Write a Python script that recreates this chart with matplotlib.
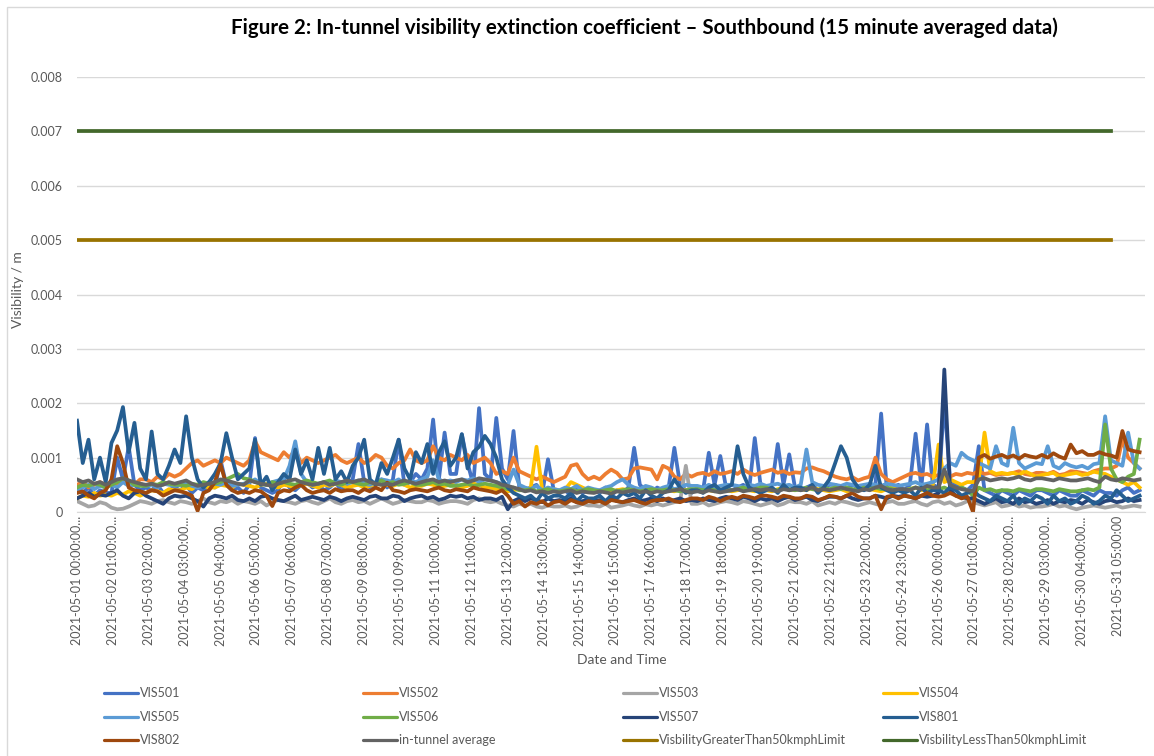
import numpy as np
import matplotlib.pyplot as plt
from matplotlib.lines import Line2D
from matplotlib.patches import Rectangle

plt.rcParams['font.family'] = ['Lato', 'DejaVu Sans']

# 15 minute samples: 2021-05-01 00:00 .. 2021-05-31 23:45 (2976 categories)
# series every 4 h (every 16th sample), units of 1e-5 /m
n_samples = 2976
step = 16

vis501 = [
    40, 35, 45, 30, 40, 35,
    35, 100, 60, 120, 50, 40,
    45, 40, 50, 35, 40, 45,
    40, 50, 35, 45, 40, 50,
    45, 95, 50, 40, 45, 35,
    50, 136, 45, 40, 35, 40,
    60, 45, 40, 50, 55, 45,
    50, 40, 45, 55, 40, 50,
    60, 125, 55, 45, 50, 60,
    45, 60, 133, 50, 55, 70,
    60, 80, 170, 60, 146, 70,
    70, 143, 90, 50, 191, 70,
    60, 173, 80, 60, 149, 45,
    40, 45, 50, 35, 97, 40,
    35, 40, 30, 45, 35, 40,
    40, 35, 45, 30, 40, 35,
    45, 118, 50, 40, 35, 45,
    40, 45, 118, 50, 40, 35,
    45, 40, 109, 50, 103, 45,
    40, 45, 50, 40, 136, 50,
    45, 50, 125, 50, 106, 45,
    40, 45, 50, 40, 45, 50,
    50, 45, 40, 50, 45, 40,
    45, 50, 181, 40, 45, 50,
    40, 50, 144, 45, 161, 50,
    45, 205, 60, 50, 45, 40,
    50, 121, 40, 35, 30, 40,
    35, 30, 40, 35, 30, 40,
    40, 35, 30, 40, 35, 30,
    30, 40, 35, 30, 40, 35,
    35, 30, 40, 45, 35, 40,
]
vis502 = [
    50, 55, 45, 50, 55, 50,
    55, 50, 60, 55, 50, 60,
    60, 55, 65, 60, 70, 65,
    70, 80, 90, 95, 85, 90,
    95, 90, 100, 95, 90, 85,
    95, 130, 110, 105, 100, 95,
    110, 100, 115, 90, 100, 95,
    90, 95, 100, 105, 95, 90,
    95, 100, 90, 95, 105, 100,
    85, 80, 90, 95, 115, 95,
    90, 95, 121, 100, 95, 105,
    100, 95, 105, 90, 95, 100,
    90, 70, 75, 70, 100, 75,
    70, 65, 60, 65, 60, 55,
    60, 65, 85, 88, 70, 60,
    65, 60, 70, 78, 72, 60,
    62, 80, 82, 80, 78, 60,
    85, 80, 65, 60, 70, 65,
    70, 72, 68, 75, 70, 72,
    75, 70, 78, 72, 68, 72,
    75, 78, 72, 75, 70, 73,
    72, 80, 82, 78, 75, 70,
    65, 62, 60, 64, 58, 62,
    65, 100, 70, 60, 55, 60,
    65, 70, 72, 68, 70, 65,
    68, 70, 65, 70, 68, 72,
    70, 75, 70, 72, 68, 70,
    70, 72, 75, 70, 68, 72,
    72, 70, 74, 68, 70, 75,
    74, 72, 70, 75, 78, 80,
    80, 85, 133, 100, 90, 80,
]
vis503 = [
    20, 15, 10, 12, 18, 15,
    8, 5, 6, 10, 15, 20,
    18, 15, 20, 22, 18, 15,
    20, 18, 15, 20, 25, 18,
    15, 20, 18, 22, 15, 20,
    18, 15, 20, 12, 18, 22,
    20, 18, 15, 20, 22, 18,
    15, 20, 25, 18, 15, 20,
    22, 18, 20, 15, 20, 25,
    20, 15, 18, 22, 20, 18,
    18, 22, 20, 15, 18, 20,
    20, 18, 15, 22, 25, 20,
    18, 20, 15, 12, 10, 15,
    12, 15, 10, 8, 12, 10,
    10, 12, 8, 10, 15, 12,
    12, 10, 15, 8, 10, 12,
    15, 12, 10, 14, 12, 15,
    12, 15, 18, 20, 85, 15,
    15, 18, 12, 15, 18, 20,
    18, 15, 20, 18, 15, 12,
    15, 18, 12, 15, 20, 18,
    18, 15, 20, 12, 15, 18,
    15, 20, 18, 15, 12, 15,
    18, 15, 12, 18, 20, 15,
    15, 18, 20, 15, 12, 18,
    20, 15, 18, 12, 15, 20,
    18, 15, 12, 15, 18, 10,
    12, 15, 10, 12, 8, 10,
    10, 12, 15, 10, 12, 8,
    5, 8, 10, 12, 10, 8,
    10, 12, 8, 10, 12, 10,
]
vis504 = [
    25, 30, 28, 35, 30, 32,
    30, 35, 32, 38, 35, 30,
    35, 40, 38, 35, 42, 40,
    40, 45, 42, 50, 48, 45,
    45, 50, 48, 45, 52, 50,
    48, 45, 50, 52, 48, 45,
    50, 48, 45, 50, 52, 48,
    45, 50, 48, 52, 50, 45,
    48, 50, 45, 48, 52, 50,
    50, 48, 52, 50, 45, 48,
    48, 52, 50, 45, 48, 50,
    50, 45, 48, 52, 50, 45,
    45, 42, 40, 38, 40, 42,
    40, 45, 120, 40, 38, 42,
    40, 42, 55, 50, 45, 40,
    38, 40, 42, 38, 40, 42,
    40, 38, 42, 40, 38, 40,
    42, 40, 38, 42, 40, 38,
    40, 42, 40, 38, 42, 40,
    38, 40, 42, 40, 38, 42,
    40, 38, 42, 45, 40, 42,
    42, 40, 45, 42, 40, 38,
    40, 42, 38, 40, 42, 45,
    42, 40, 38, 42, 45, 40,
    40, 42, 45, 40, 45, 50,
    124, 55, 60, 55, 50, 55,
    55, 60, 146, 75, 70, 72,
    70, 72, 68, 75, 70, 65,
    68, 70, 72, 65, 68, 70,
    72, 68, 70, 74, 72, 70,
    65, 60, 55, 50, 55, 45,
]
vis505 = [
    40, 45, 50, 42, 48, 45,
    50, 45, 55, 48, 50, 52,
    48, 50, 45, 52, 50, 48,
    50, 52, 48, 45, 50, 55,
    52, 50, 55, 48, 50, 52,
    55, 60, 52, 50, 55, 58,
    60, 85, 130, 70, 55, 50,
    52, 55, 50, 58, 55, 52,
    55, 58, 52, 50, 55, 60,
    58, 55, 60, 52, 58, 55,
    60, 65, 95, 60, 55, 58,
    55, 60, 58, 62, 55, 60,
    58, 55, 52, 50, 78, 50,
    45, 42, 48, 40, 45, 42,
    40, 45, 42, 48, 40, 45,
    42, 40, 45, 48, 55, 60,
    50, 45, 42, 48, 45, 40,
    45, 48, 42, 45, 50, 48,
    48, 45, 50, 45, 48, 50,
    50, 48, 45, 50, 48, 52,
    48, 50, 52, 48, 50, 45,
    50, 115, 55, 50, 48, 52,
    50, 48, 52, 50, 48, 50,
    52, 50, 48, 52, 50, 48,
    50, 52, 55, 50, 52, 55,
    60, 80, 90, 85, 109, 100,
    95, 90, 85, 80, 121, 90,
    85, 155, 90, 80, 85, 90,
    88, 121, 85, 80, 90, 85,
    82, 85, 80, 88, 90, 176,
    95, 90, 85, 146, 90, 80,
]
vis506 = [
    45, 50, 48, 52, 50, 45,
    50, 55, 62, 58, 50, 48,
    48, 52, 50, 55, 52, 50,
    50, 48, 52, 50, 55, 52,
    52, 55, 60, 65, 70, 62,
    60, 55, 52, 50, 55, 52,
    55, 52, 50, 55, 58, 55,
    52, 55, 58, 52, 50, 55,
    55, 52, 50, 55, 52, 58,
    52, 55, 50, 52, 55, 50,
    50, 52, 55, 50, 52, 48,
    48, 50, 52, 48, 50, 52,
    50, 48, 45, 42, 45, 40,
    40, 42, 38, 40, 42, 38,
    38, 40, 42, 38, 40, 42,
    40, 38, 40, 42, 38, 40,
    42, 40, 38, 40, 42, 40,
    40, 42, 40, 38, 40, 42,
    42, 40, 42, 40, 38, 40,
    40, 42, 45, 40, 42, 45,
    45, 42, 40, 45, 42, 40,
    42, 45, 42, 40, 45, 42,
    45, 42, 45, 42, 40, 45,
    42, 45, 42, 45, 42, 40,
    40, 42, 45, 42, 40, 42,
    42, 45, 40, 42, 45, 40,
    30, 45, 40, 42, 38, 40,
    40, 38, 42, 40, 38, 42,
    42, 40, 38, 42, 40, 38,
    38, 40, 42, 40, 45, 161,
    80, 60, 55, 65, 70, 133,
]
vis507 = [
    25, 30, 35, 28, 32, 30,
    35, 40, 30, 25, 35, 38,
    30, 25, 20, 15, 25, 30,
    28, 30, 25, 20, 10, 25,
    30, 28, 25, 30, 22, 20,
    25, 20, 28, 30, 25, 22,
    20, 25, 30, 22, 25, 28,
    25, 22, 28, 25, 20, 25,
    28, 25, 22, 28, 30, 25,
    25, 30, 28, 20, 25, 28,
    30, 25, 28, 22, 25, 30,
    28, 30, 25, 28, 22, 25,
    25, 22, 28, 5, 20, 25,
    20, 25, 22, 18, 25, 20,
    22, 20, 25, 18, 20, 22,
    20, 22, 18, 25, 20, 18,
    22, 25, 20, 22, 25, 20,
    25, 20, 22, 25, 20, 22,
    20, 25, 22, 20, 25, 28,
    25, 22, 28, 25, 20, 25,
    22, 25, 20, 25, 28, 22,
    25, 28, 22, 20, 25, 28,
    28, 25, 30, 25, 22, 25,
    25, 30, 28, 25, 30, 28,
    30, 28, 25, 30, 28, 30,
    35, 262, 40, 30, 28, 25,
    25, 20, 15, 20, 25, 18,
    20, 15, 25, 18, 20, 15,
    18, 22, 15, 20, 18, 22,
    20, 15, 22, 18, 15, 20,
    22, 18, 20, 25, 20, 22,
]
vis801 = [
    168, 90, 133, 60, 100, 55,
    127, 150, 193, 110, 164, 80,
    60, 148, 70, 60, 85, 115,
    90, 176, 100, 60, 45, 55,
    70, 90, 145, 100, 60, 70,
    80, 133, 50, 65, 40, 55,
    70, 60, 115, 70, 95, 60,
    118, 70, 118, 60, 75, 55,
    85, 100, 133, 60, 50, 90,
    70, 100, 133, 80, 60, 110,
    90, 125, 70, 110, 130, 85,
    100, 143, 80, 110, 120, 140,
    125, 100, 60, 45, 35, 30,
    25, 30, 20, 35, 25, 30,
    30, 25, 35, 20, 30, 25,
    25, 30, 20, 30, 25, 35,
    30, 35, 25, 40, 30, 25,
    35, 40, 60, 45, 35, 40,
    40, 35, 45, 50, 40, 45,
    50, 121, 70, 45, 40, 35,
    40, 45, 35, 50, 40, 45,
    45, 40, 50, 35, 45, 60,
    90, 121, 100, 60, 45, 40,
    50, 85, 45, 40, 35, 40,
    35, 40, 30, 45, 35, 40,
    40, 35, 45, 40, 30, 35,
    40, 30, 25, 20, 30, 25,
    20, 30, 15, 25, 20, 30,
    25, 15, 30, 20, 25, 15,
    20, 30, 25, 15, 20, 30,
    25, 40, 30, 20, 25, 30,
]
vis802 = [
    35, 38, 30, 25, 35, 40,
    60, 121, 90, 45, 40, 38,
    35, 40, 38, 30, 35, 40,
    38, 35, 30, 2, 35, 40,
    55, 87, 50, 40, 35, 38,
    35, 40, 38, 30, 11, 35,
    40, 38, 45, 50, 40, 35,
    38, 40, 35, 42, 38, 40,
    40, 35, 42, 38, 45, 40,
    54, 40, 38, 35, 40, 42,
    40, 38, 42, 45, 40, 38,
    42, 40, 38, 45, 42, 40,
    38, 35, 40, 30, 15, 20,
    10, 18, 15, 20, 12, 18,
    20, 15, 22, 18, 15, 20,
    18, 20, 15, 22, 20, 18,
    20, 22, 18, 15, 20, 22,
    22, 25, 20, 18, 22, 25,
    25, 22, 28, 25, 20, 25,
    28, 25, 30, 28, 25, 30,
    30, 28, 25, 30, 28, 25,
    25, 30, 28, 22, 25, 30,
    28, 25, 30, 35, 28, 25,
    25, 30, 5, 28, 30, 25,
    30, 28, 25, 30, 35, 30,
    28, 30, 35, 30, 25, 28,
    0, 100, 105, 98, 102, 105,
    100, 104, 98, 105, 102, 100,
    105, 100, 108, 102, 98, 124,
    108, 112, 105, 105, 110, 106,
    104, 100, 149, 115, 112, 110,
]
tunnel_avg = [
    60, 55, 58, 52, 55, 50,
    55, 60, 62, 58, 55, 52,
    50, 52, 48, 50, 55, 52,
    55, 58, 52, 48, 50, 52,
    55, 60, 58, 55, 52, 50,
    58, 55, 52, 50, 48, 52,
    55, 58, 60, 55, 52, 50,
    52, 55, 50, 52, 55, 58,
    55, 58, 60, 55, 52, 50,
    52, 50, 55, 58, 55, 52,
    55, 58, 60, 55, 58, 55,
    58, 60, 55, 58, 62, 60,
    58, 55, 50, 48, 45, 42,
    38, 40, 36, 38, 35, 38,
    36, 38, 40, 35, 38, 36,
    35, 38, 36, 34, 38, 36,
    38, 40, 36, 38, 35, 38,
    36, 38, 40, 42, 38, 36,
    38, 36, 40, 38, 36, 38,
    40, 42, 38, 40, 42, 40,
    42, 40, 38, 42, 40, 42,
    40, 42, 45, 40, 42, 40,
    42, 45, 42, 40, 38, 42,
    40, 45, 48, 42, 40, 42,
    42, 40, 45, 42, 48, 45,
    45, 78, 50, 45, 42, 40,
    38, 60, 62, 58, 60, 62,
    60, 62, 65, 60, 58, 62,
    62, 60, 58, 62, 60, 58,
    58, 60, 62, 58, 55, 65,
    60, 58, 62, 60, 58, 60,
]

# limit lines run until 2021-05-31 00:00 (category 2880)
limit_x = [0, 2880]
greater_limit = [0.005, 0.005]
less_limit = [0.007, 0.007]

tick_labels = [
    '2021-05-01 00:00:00...', '2021-05-02 01:00:00...', '2021-05-03 02:00:00...',
    '2021-05-04 03:00:00...', '2021-05-05 04:00:00...', '2021-05-06 05:00:00...',
    '2021-05-07 06:00:00...', '2021-05-08 07:00:00...', '2021-05-09 08:00:00...',
    '2021-05-10 09:00:00...', '2021-05-11 10:00:00...', '2021-05-12 11:00:00...',
    '2021-05-13 12:00:00...', '2021-05-14 13:00:00...', '2021-05-15 14:00:00...',
    '2021-05-16 15:00:00...', '2021-05-17 16:00:00...', '2021-05-18 17:00:00...',
    '2021-05-19 18:00:00...', '2021-05-20 19:00:00...', '2021-05-21 20:00:00...',
    '2021-05-22 21:00:00...', '2021-05-23 22:00:00...', '2021-05-24 23:00:00...',
    '2021-05-26 00:00:00...', '2021-05-27 01:00:00...', '2021-05-28 02:00:00...',
    '2021-05-29 03:00:00...', '2021-05-30 04:00:00...', '2021-05-31 05:00:00',
]
tick_every = 100

series = [
    ('VIS501', vis501, '#4472C4'),
    ('VIS502', vis502, '#ED7D31'),
    ('VIS503', vis503, '#A5A5A5'),
    ('VIS504', vis504, '#FFC000'),
    ('VIS505', vis505, '#5B9BD5'),
    ('VIS506', vis506, '#70AD47'),
    ('VIS507', vis507, '#264478'),
    ('VIS801', vis801, '#255E91'),
    ('VIS802', vis802, '#9E480E'),
    ('in-tunnel average', tunnel_avg, '#636363'),
]
limits = [
    ('VisbilityGreaterThan50kmphLimit', greater_limit, '#997300'),
    ('VisbilityLessThan50kmphLimit', less_limit, '#43682B'),
]

W, H = 1154, 756
fig = plt.figure(figsize=(W / 100, H / 100), dpi=100)
ax = fig.add_axes([77 / W, 1 - 512 / H, (1145 - 77) / W, (512 - 77) / H])

txt = '#595959'
lw = 2.7
handles = []
for name, vals, col in series:
    x = np.arange(len(vals)) * step
    ln, = ax.plot(x, np.array(vals) * 1e-5, color=col, lw=lw,
                  solid_joinstyle='round', label=name)
    handles.append(ln)
for name, vals, col in limits:
    ln, = ax.plot(limit_x, vals, color=col, lw=lw, label=name)
    handles.append(ln)

ax.set_xlim(0, n_samples - 1)
ax.set_ylim(0, 0.008)
yt = np.arange(0, 0.0081, 0.001)
ax.set_yticks(yt, ['0'] + [f'{v:.3f}' for v in yt[1:]])
ax.set_xticks(np.arange(len(tick_labels)) * tick_every, tick_labels, rotation=90)
ax.tick_params(axis='y', length=0, pad=10, labelsize=9, labelcolor=txt)
ax.tick_params(axis='x', length=0, pad=3, labelsize=9, labelcolor=txt)
ax.grid(axis='y', color='#D9D9D9', lw=1)
ax.set_axisbelow(True)
for s in ['top', 'right', 'left']:
    ax.spines[s].set_visible(False)
ax.spines['bottom'].set_color('#D9D9D9')

fig.text(644 / W, 1 - 28 / H,
         'Figure 2: In-tunnel visibility extinction coefficient \u2013 Southbound (15 minute averaged data)',
         ha='center', va='center', fontsize=14.8, fontweight='bold', color='black')
fig.text(18 / W, 1 - 290 / H, 'Visibility / m', rotation=90, ha='center', va='center',
         fontsize=10, color=txt)
fig.text(622 / W, 1 - 660 / H, 'Date and Time', ha='center', va='center',
         fontsize=10, color=txt)

# legend: 4 equal columns like Excel
col_x = [104, 363, 623, 883]
row_y = [693, 717, 740]
for i, h in enumerate(handles):
    r, c = divmod(i, 4)
    x0, y0 = col_x[c], row_y[r]
    fig.add_artist(Line2D([x0 / W, (x0 + 34) / W], [1 - y0 / H] * 2,
                          color=h.get_color(), lw=2.3, solid_capstyle='round',
                          transform=fig.transFigure))
    fig.text((x0 + 36) / W, 1 - y0 / H, h.get_label(), ha='left', va='center',
             fontsize=9, color=txt)

fig.add_artist(Rectangle((7 / W, -0.02), 1.1, 1 - 7 / H + 0.02, fill=False,
                         ec='#D9D9D9', lw=1, transform=fig.transFigure))

fig.savefig('out.png', dpi=100)
